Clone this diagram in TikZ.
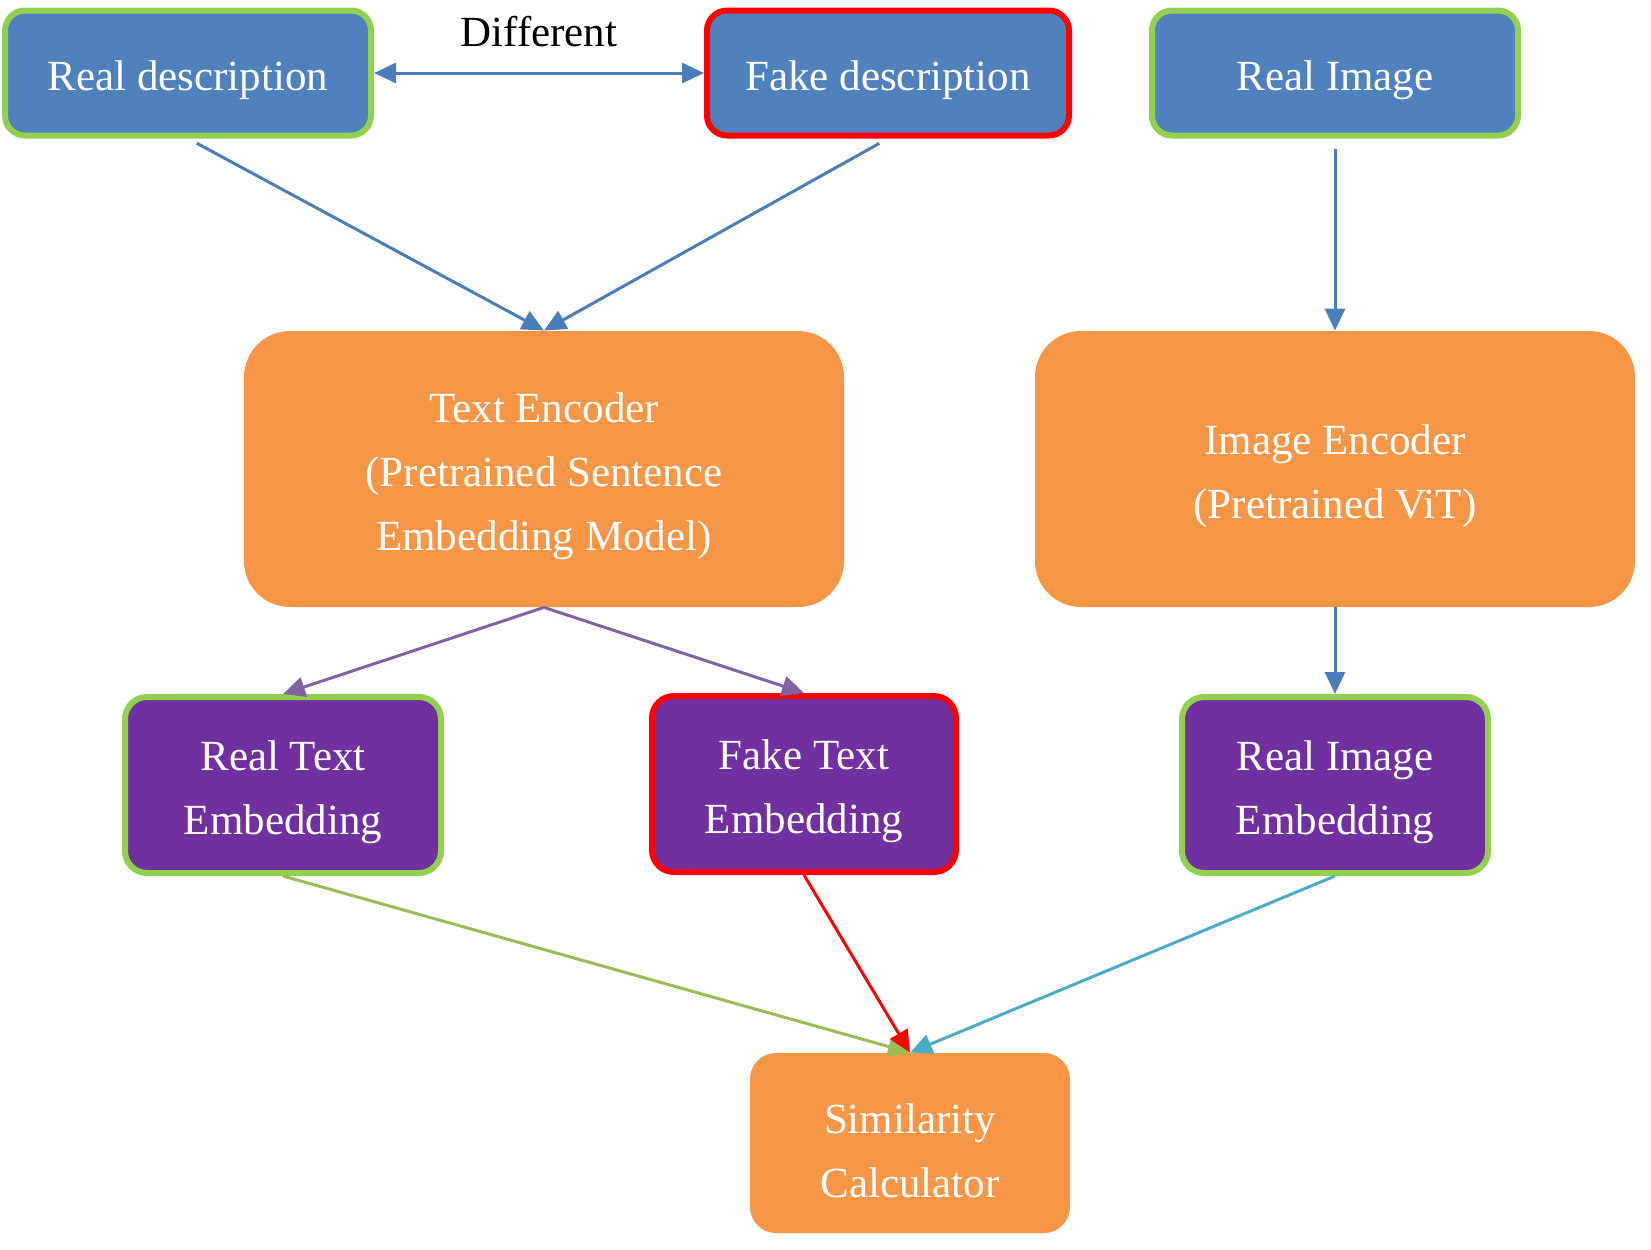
\documentclass[tikz,border=0pt]{standalone}
\usepackage{fontspec}
\setmainfont{Liberation Serif}
\usetikzlibrary{arrows.meta}
\definecolor{descblue}{HTML}{4F81BD}
\definecolor{okgreen}{HTML}{92D050}
\definecolor{encorange}{HTML}{F79646}
\definecolor{embpurple}{HTML}{7030A0}
\definecolor{lineblue}{HTML}{4A7EBB}
\definecolor{linepurple}{HTML}{8064A2}
\definecolor{linegreen}{HTML}{9BBB59}
\definecolor{linecyan}{HTML}{4BACC6}
\newcommand{\padtop}{\rule{0pt}{22.5pt}}
\begin{document}
\begin{tikzpicture}[x=0.5pt,y=-0.5pt,
  every node/.style={font=\fontsize{21.5}{32}\selectfont,align=center,inner sep=0pt},
  descbox/.style={draw,line width=3pt,fill=descblue,text=white,rounded corners=10pt,
    minimum width=183pt,minimum height=62.5pt},
  encbox/.style={fill=encorange,text=white,rounded corners=23pt,
    minimum width=300pt,minimum height=138pt},
  embbox/.style={draw,line width=3pt,fill=embpurple,text=white,rounded corners=11pt,
    minimum height=88pt},
  real/.style={draw=okgreen},
  fake/.style={draw=red},
  conn/.style={line width=1.5pt,-{Triangle[length=11pt,width=10pt]}}]
 \useasboundingbox (0,0) rectangle (1651,1249);
 % inputs
 \node[descbox,real] (realdesc) at (188,73) {\padtop Real description};
 \node[descbox,fake,minimum width=181pt] (fakedesc) at (888,73) {\padtop Fake description};
 \node[descbox,real] (realimg) at (1335,73) {\padtop Real Image};
 % encoders
 \node[encbox] (txtenc) at (544,469) {\padtop Text Encoder\\(Pretrained Sentence\\Embedding Model)};
 \node[encbox] (imgenc) at (1335,469) {\padtop Image Encoder\\(Pretrained ViT)};
 % embeddings
 \node[embbox,real,minimum width=158pt] (realtxtemb) at (283,785) {\padtop Real Text\\Embedding};
 \node[embbox,fake,minimum width=152pt] (faketxtemb) at (804,784) {\padtop Fake Text\\Embedding};
 \node[embbox,real,minimum width=153pt] (realimgemb) at (1335,785) {\padtop Real Image\\Embedding};
 % similarity
 \node[encbox,rounded corners=13pt,minimum width=160pt,minimum height=90pt] (simcalc) at (910,1143) {\padtop Similarity\\Calculator};
 % connectors
 \draw[conn,lineblue,{Triangle[length=11pt,width=10pt]}-{Triangle[length=11pt,width=10pt]}]
   (realdesc.east) -- node[above=12.5pt,text=black] (difflabel) {Different} (fakedesc.west);
 \draw[conn,lineblue,shorten <=5pt] (realdesc.south) -- (txtenc.north);
 \draw[conn,lineblue,shorten <=5pt] (fakedesc.south) -- (txtenc.north);
 \draw[conn,lineblue,shorten <=5pt] (realimg.south) -- (imgenc.north);
 \draw[conn,linepurple] (txtenc.south) -- (realtxtemb.north);
 \draw[conn,linepurple] (txtenc.south) -- (faketxtemb.north);
 \draw[conn,lineblue] (imgenc.south) -- (realimgemb.north);
 \draw[conn,linegreen] (realtxtemb.south) -- (simcalc.north);
 \draw[conn,red] (faketxtemb.south) -- (simcalc.north);
 \draw[conn,linecyan] (realimgemb.south) -- (simcalc.north);
\end{tikzpicture}
\end{document}
